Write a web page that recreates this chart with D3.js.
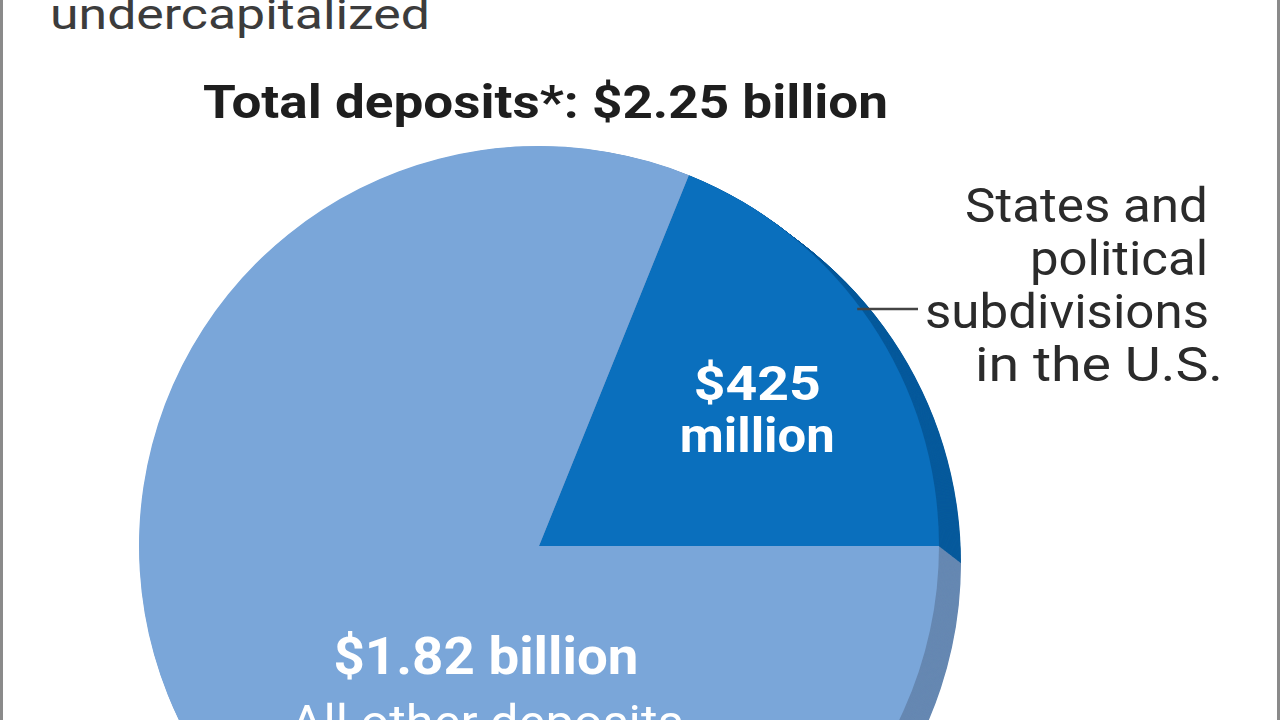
<!DOCTYPE html>
<html>
<head>
<meta charset="utf-8">
<script src="https://cdn.jsdelivr.net/npm/d3@7"></script>
<style>
  html, body { margin: 0; padding: 0; background: #ffffff; }
  svg { display: block; }
</style>
</head>
<body>
<svg id="chart" width="1280" height="720"></svg>
<script>
// ---- Data ----
const categories = ["States and political subdivisions in the U.S.", "All other deposits"];
const valuesMillions = [425, 1825];
const totalLabel = "Total deposits*: $2.25 billion";
const sliceValueLabels = [["$425", "million"], ["$1.82 billion"]];
const sliceNameLabels = [["States and", "political", "subdivisions", "in the U.S."], ["All other deposits"]];
const headerText = "undercapitalized";

// ---- Styles ----
const faceColors = ["#0a6fbd", "#7aa6d9"];
const rimColors = ["#075a9c", "#6688b2"];
const textDark = "#2b2b2b";
const fontFamily = "Roboto, 'Liberation Sans', Arial, sans-serif";

const svg = d3.select("#chart");
const W = 1280, H = 720;

// Frame
svg.append("rect").attr("x", 0).attr("y", 0).attr("width", 3).attr("height", H).attr("fill", "#8a8a8a");
svg.append("rect").attr("x", W - 3).attr("y", 0).attr("width", 3).attr("height", H).attr("fill", "#8a8a8a");

// Header (cropped)
svg.append("text")
  .attr("x", 50).attr("y", 29)
  .attr("font-family", fontFamily).attr("font-weight", 400)
  .attr("font-size", 43).attr("fill", "#3c3c3c")
  .attr("textLength", 380).attr("lengthAdjust", "spacingAndGlyphs")
  .text(headerText);

// Title
svg.append("text")
  .attr("x", 203).attr("y", 118)
  .attr("font-family", fontFamily).attr("font-weight", 700)
  .attr("font-size", 47).attr("fill", "#1e1e1e")
  .attr("textLength", 685).attr("lengthAdjust", "spacingAndGlyphs")
  .text(totalLabel);

// ---- Pie ----
const cx = 539, cy = 546, R = 400;
const total = d3.sum(valuesMillions);
const startA = Math.PI / 2 - 2 * Math.PI * valuesMillions[0] / total;
const pie = d3.pie().sort(null).value(d => d).startAngle(startA).endAngle(startA + 2 * Math.PI);
const arcs = pie(valuesMillions);
const arc = d3.arc().innerRadius(0).outerRadius(R);

const g = svg.append("g").attr("transform", `translate(${cx},${cy})`);

// 3D extrusion: stacked offset layers
const depthX = 22, depthY = 17, N = 40;
for (let k = N; k >= 1; k--) {
  const t = k / N;
  g.append("g")
    .attr("transform", `translate(${depthX * t},${depthY * t})`)
    .selectAll("path").data(arcs).join("path")
    .attr("d", arc)
    .attr("fill", (d, i) => rimColors[i]);
}

// Front face
g.append("g").selectAll("path").data(arcs).join("path")
  .attr("d", arc)
  .attr("fill", (d, i) => faceColors[i]);

// Value labels in dark slice (positioned via arc centroid)
const labelArc = d3.arc().innerRadius(262).outerRadius(262);
const c0 = labelArc.centroid(arcs[0]);
const lab0 = g.append("text")
  .attr("font-family", fontFamily).attr("font-weight", 700)
  .attr("font-size", 48).attr("fill", "#ffffff").attr("text-anchor", "middle");
lab0.append("tspan").attr("x", c0[0] + 1).attr("y", c0[1])
  .attr("textLength", 127).attr("lengthAdjust", "spacingAndGlyphs").text(sliceValueLabels[0][0]);
lab0.append("tspan").attr("x", c0[0] + 1).attr("y", c0[1] + 52)
  .attr("textLength", 155).attr("lengthAdjust", "spacingAndGlyphs").text(sliceValueLabels[0][1]);

// Labels in light slice
g.append("text")
  .attr("x", 486 - cx).attr("y", 674 - cy)
  .attr("font-family", fontFamily).attr("font-weight", 700)
  .attr("font-size", 52).attr("fill", "#ffffff").attr("text-anchor", "middle")
  .attr("textLength", 305).attr("lengthAdjust", "spacingAndGlyphs")
  .text(sliceValueLabels[1][0]);
g.append("text")
  .attr("x", 487 - cx).attr("y", 739 - cy)
  .attr("font-family", fontFamily).attr("font-weight", 400)
  .attr("font-size", 48).attr("fill", "#ffffff").attr("text-anchor", "middle")
  .attr("textLength", 393).attr("lengthAdjust", "spacingAndGlyphs")
  .text(sliceNameLabels[1][0]);

// Outside label for dark slice
const outLines = sliceNameLabels[0];
const outX = [965, 1030, 925, 975];
const outW = [243, 178, 284, 248];
const outY = [222, 275, 328, 381];
svg.append("g").selectAll("text").data(outLines).join("text")
  .attr("x", (d, i) => outX[i]).attr("y", (d, i) => outY[i])
  .attr("font-family", fontFamily).attr("font-weight", 400)
  .attr("font-size", 48).attr("fill", textDark)
  .attr("textLength", (d, i) => outW[i]).attr("lengthAdjust", "spacingAndGlyphs")
  .text(d => d);

// Leader line from slice edge to label
const leaderY = 309;
const edgeX = cx + Math.sqrt(R * R - (leaderY - cy) * (leaderY - cy));
svg.append("line")
  .attr("x1", edgeX - 4).attr("x2", 918)
  .attr("y1", leaderY).attr("y2", leaderY)
  .attr("stroke", "#444").attr("stroke-width", 2.5);
</script>
</body>
</html>
